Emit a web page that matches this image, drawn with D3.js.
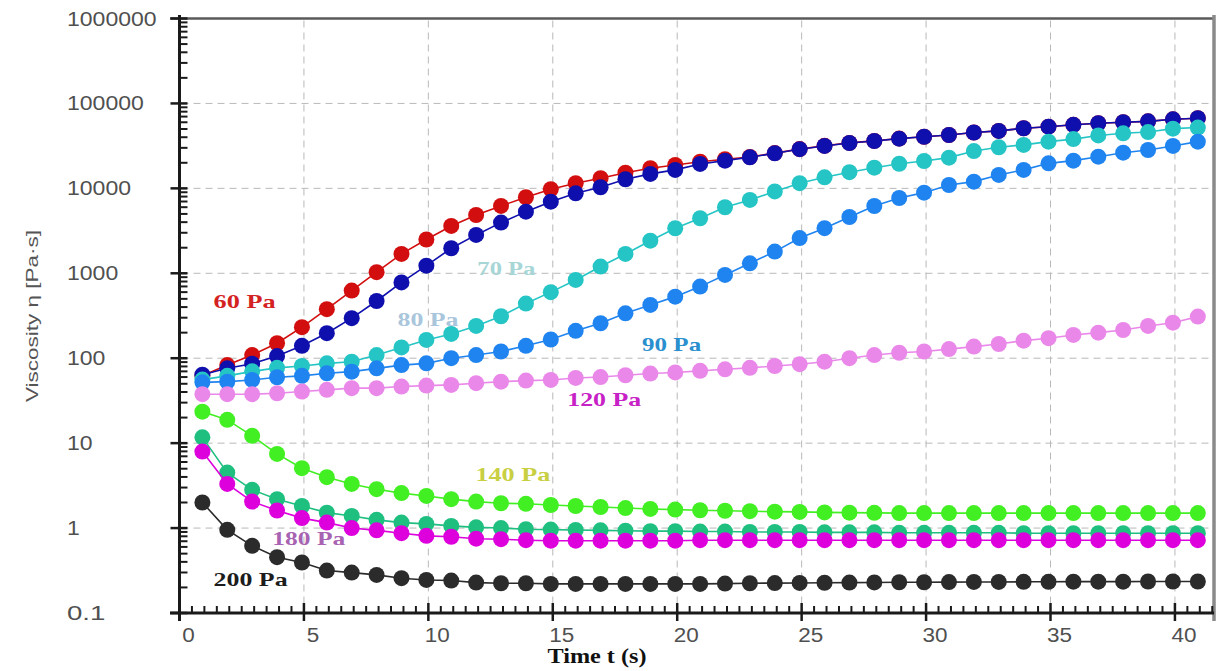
<!DOCTYPE html>
<html>
<head>
<meta charset="utf-8">
<script src="https://cdn.jsdelivr.net/npm/d3@7"></script>
<style>
  body { margin: 0; background: #fff; }
  svg { display: block; }
</style>
</head>
<body>
<svg id="chart" width="1230" height="671"></svg>
<script>
// Sampling times (s)
const times = [0.92, 1.92, 2.92, 3.92, 4.92, 5.92, 6.92, 7.92, 8.92, 9.92,
  10.92, 11.92, 12.92, 13.92, 14.92, 15.92, 16.92, 17.92, 18.92, 19.92,
  20.92, 21.92, 22.92, 23.92, 24.92, 25.92, 26.92, 27.92, 28.92, 29.92,
  30.92, 31.92, 32.92, 33.92, 34.92, 35.92, 36.92, 37.92, 38.92, 39.92, 40.92];

// Viscosity (Pa·s) for each applied stress
const eta60 = [62, 83, 109, 150, 232, 378, 625, 1030, 1690, 2500,
  3610, 4860, 6210, 7860, 9760, 11480, 13150, 15300, 17250, 18850,
  20600, 22000, 23400, 26000, 29000, 31700, 34300, 36200, 38600, 40500,
  42500, 45500, 47500, 51000, 53200, 56000, 58400, 60000, 61500, 65000, 67000];
const eta70 = [64, 76, 86, 106, 140, 197, 296, 472, 780, 1230,
  1970, 2830, 3950, 5320, 6970, 8750, 10300, 12800, 14800, 16500,
  19400, 21200, 23200, 25900, 28900, 31600, 34200, 36100, 38500, 40500,
  42500, 45500, 47500, 51000, 53200, 56000, 58400, 60000, 61500, 65000, 67000];
const eta80 = [56, 62, 70, 77, 81, 87, 91, 109, 134, 164,
  193, 240, 312, 440, 600, 835, 1200, 1690, 2420, 3390,
  4450, 5990, 7300, 9200, 11500, 13500, 15500, 17500, 19500, 21000,
  23000, 27500, 30500, 32500, 35500, 38000, 42000, 44500, 46000, 50500, 52000];
const eta90 = [52, 53, 55.5, 59.7, 62, 66.5, 69.5, 76, 83, 87,
  100, 109, 120, 140, 166, 210, 258, 338, 424, 531,
  697, 957, 1310, 1800, 2600, 3400, 4600, 6200, 7700, 8900,
  10960, 12000, 14400, 16500, 19700, 21200, 23600, 26300, 28300, 31600, 35500];
const eta120 = [37.7, 37.7, 37.7, 38.7, 40.5, 42.4, 44.4, 44.4, 46.4, 47.6,
  48.5, 50.8, 53, 54.5, 55.5, 58.6, 60, 63, 66, 68,
  71, 74, 77, 81, 85, 91, 100, 109, 116, 120,
  128, 137, 147, 161, 172, 188, 200, 215, 240, 262, 309];
const eta140 = [23.5, 18.8, 12.2, 7.46, 5.07, 3.97, 3.31, 2.87, 2.58, 2.39,
  2.19, 2.05, 1.96, 1.93, 1.87, 1.82, 1.77, 1.72, 1.68, 1.65,
  1.62, 1.6, 1.58, 1.56, 1.55, 1.53, 1.52, 1.51, 1.5, 1.5,
  1.5, 1.5, 1.5, 1.5, 1.5, 1.5, 1.5, 1.5, 1.5, 1.5, 1.5];
const etaUnlabeled = [11.7, 4.5, 2.82, 2.19, 1.82, 1.52, 1.39, 1.25, 1.16, 1.12,
  1.06, 1.02, 1.0, 0.97, 0.96, 0.95, 0.94, 0.93, 0.92, 0.92,
  0.91, 0.91, 0.9, 0.9, 0.9, 0.89, 0.89, 0.89, 0.88, 0.88,
  0.88, 0.88, 0.88, 0.87, 0.87, 0.87, 0.87, 0.87, 0.87, 0.87, 0.87];
const eta180 = [7.96, 3.31, 2.05, 1.61, 1.31, 1.16, 1.0, 0.94, 0.87, 0.81,
  0.79, 0.75, 0.74, 0.72, 0.71, 0.71, 0.71, 0.71, 0.71, 0.71,
  0.72, 0.72, 0.72, 0.72, 0.72, 0.72, 0.72, 0.72, 0.72, 0.72,
  0.72, 0.72, 0.72, 0.72, 0.72, 0.72, 0.72, 0.72, 0.72, 0.72, 0.72];
const eta200 = [2.0, 0.953, 0.618, 0.454, 0.393, 0.316, 0.299, 0.281, 0.257, 0.245,
  0.241, 0.228, 0.224, 0.224, 0.22, 0.22, 0.22, 0.22, 0.22, 0.22,
  0.22, 0.222, 0.224, 0.225, 0.226, 0.227, 0.228, 0.229, 0.23, 0.23,
  0.231, 0.232, 0.232, 0.233, 0.233, 0.234, 0.234, 0.234, 0.235, 0.235, 0.235];

// Axis ticks
const yTickValues = [0.1, 1, 10, 100, 1000, 10000, 100000, 1000000];
const yTickLabels = ["0.1", "1", "10", "100", "1000", "10000", "100000", "1000000"];
const xTickValues = [0, 5, 10, 15, 20, 25, 30, 35, 40];
const xTickLabels = ["0", "5", "10", "15", "20", "25", "30", "35", "40"];

// Curve annotations: text and anchor in data coordinates (t, eta)
const annoText = ["60 Pa", "70 Pa", "80 Pa", "90 Pa", "120 Pa", "140 Pa", "180 Pa", "200 Pa"];
const annoT = [1.37, 11.97, 8.76, 18.59, 15.58, 11.89, 3.73, 1.37];
const annoEta = [391, 957, 240, 122, 27.4, 3.6, 0.634, 0.209];

// ---- styling / layout ----
const series = [
  { values: eta60, fill: "#d20e0e", stroke: "#d20e0e" },
  { values: eta70, fill: "#0f0fae", stroke: "#0f0fae" },
  { values: eta80, fill: "#25c5c5", stroke: "#25c5c5" },
  { values: eta90, fill: "#1f84f0", stroke: "#1f84f0" },
  { values: eta120, fill: "#ea88ea", stroke: "#ea88ea" },
  { values: eta140, fill: "#42ef22", stroke: "#42ef22" },
  { values: etaUnlabeled, fill: "#1fbf80", stroke: "#1fbf80" },
  { values: eta180, fill: "#dd00dd", stroke: "#dd00dd" },
  { values: eta200, fill: "#2b2b2b", stroke: "#2b2b2b" }
];
const annoColor = ["#d42222", "#a6d6d6", "#a9c6dc", "#2a8fce", "#c622c6", "#c9cf42", "#a862b2", "#1c1c1c"];
const annoWidth = [62, 58, 61, 59, 74, 75, 73, 74];

const plot = { left: 179.5, right: 1214, top: 18.5, bottom: 613 };
const svg = d3.select("#chart");

const x = d3.scaleLinear().domain([0, 41.57]).range([plot.left, plot.right]);
const y = d3.scaleLog().domain([0.1, 1000000]).range([plot.bottom, plot.top]);

// Dashed grid
const grid = svg.append("g").attr("stroke", "#b9b9b9").attr("stroke-width", 1)
  .attr("stroke-dasharray", "7,5").attr("fill", "none");
grid.selectAll("line.h").data(yTickValues.filter(v => v > 0.1 && v < 1000000))
  .join("line").attr("class", "h")
  .attr("x1", plot.left + 2).attr("x2", plot.right - 2)
  .attr("y1", d => y(d)).attr("y2", d => y(d));
grid.selectAll("line.v").data(xTickValues.filter(v => v > 0))
  .join("line").attr("class", "v")
  .attr("x1", d => x(d)).attr("x2", d => x(d))
  .attr("y1", plot.top + 2).attr("y2", plot.bottom - 2);

// Frame: top and right borders
svg.append("line").attr("x1", 170).attr("x2", plot.right).attr("y1", plot.top).attr("y2", plot.top)
  .attr("stroke", "#5a5a5a").attr("stroke-width", 2.5);
svg.append("line").attr("x1", plot.right).attr("x2", plot.right).attr("y1", 15).attr("y2", 621)
  .attr("stroke", "#8a8a8a").attr("stroke-width", 3.5);

// Left axis
const yAxis = svg.append("g").attr("stroke", "#1a1a1a");
yAxis.append("line").attr("x1", plot.left).attr("x2", plot.left).attr("y1", 15).attr("y2", 621)
  .attr("stroke-width", 3);
const yMinor = [];
yTickValues.slice(0, -1).forEach(d => { for (let k = 2; k <= 9; k++) yMinor.push(d * k); });
yAxis.selectAll("line.minor").data(yMinor).join("line").attr("class", "minor")
  .attr("x1", plot.left).attr("x2", plot.left + 8)
  .attr("y1", d => y(d)).attr("y2", d => y(d)).attr("stroke-width", 2);
yAxis.selectAll("line.major").data(yTickValues).join("line").attr("class", "major")
  .attr("x1", plot.left - 9).attr("x2", plot.left + 8)
  .attr("y1", d => y(d)).attr("y2", d => y(d)).attr("stroke-width", 2.5);

svg.append("g").selectAll("text").data(yTickValues).join("text")
  .attr("x", 67).attr("y", d => y(d))
  .attr("dominant-baseline", "central")
  .attr("font-family", "'Liberation Sans', Arial, sans-serif")
  .attr("font-size", 20).attr("fill", "#505050")
  .attr("textLength", (d, i) => yTickLabels[i].length * 12.8)
  .attr("lengthAdjust", "spacingAndGlyphs")
  .text((d, i) => yTickLabels[i]);

// Bottom axis
const xAxis = svg.append("g").attr("stroke", "#1a1a1a");
xAxis.append("line").attr("x1", 170).attr("x2", plot.right).attr("y1", plot.bottom).attr("y2", plot.bottom)
  .attr("stroke-width", 3);
const xMinor = d3.range(1, 84).map(k => k / 2).filter(v => v % 5 !== 0);
xAxis.selectAll("line.minor").data(xMinor).join("line").attr("class", "minor")
  .attr("x1", d => x(d)).attr("x2", d => x(d))
  .attr("y1", plot.bottom - 7).attr("y2", plot.bottom).attr("stroke-width", 2);
xAxis.selectAll("line.major").data(xTickValues).join("line").attr("class", "major")
  .attr("x1", d => x(d)).attr("x2", d => x(d))
  .attr("y1", plot.bottom - 10).attr("y2", plot.bottom + 8).attr("stroke-width", 2.5);

svg.append("g").selectAll("text").data(xTickValues).join("text")
  .attr("x", d => x(d) + 9).attr("y", 635)
  .attr("text-anchor", "middle").attr("dominant-baseline", "central")
  .attr("font-family", "'Liberation Sans', Arial, sans-serif")
  .attr("font-size", 20).attr("fill", "#505050")
  .attr("textLength", (d, i) => xTickLabels[i].length * 12.5)
  .attr("lengthAdjust", "spacingAndGlyphs")
  .text((d, i) => xTickLabels[i]);

// Axis titles
svg.append("text")
  .attr("transform", "translate(38,316) rotate(-90)")
  .attr("text-anchor", "middle")
  .attr("font-family", "'Liberation Sans', Arial, sans-serif")
  .attr("font-size", 17).attr("fill", "#555")
  .attr("textLength", 172).attr("lengthAdjust", "spacingAndGlyphs")
  .text("Viscosity η  [Pa·s]");
svg.append("text")
  .attr("x", 597).attr("y", 663)
  .attr("text-anchor", "middle")
  .attr("font-family", "'Liberation Serif', 'Times New Roman', serif")
  .attr("font-weight", "bold").attr("font-size", 20).attr("fill", "#111")
  .attr("textLength", 99).attr("lengthAdjust", "spacingAndGlyphs")
  .text("Time t (s)");

// Series: connecting line + filled markers
const line = d3.line().x((d, i) => x(times[i])).y(d => y(d));
series.forEach(s => {
  const g = svg.append("g");
  g.append("path").attr("d", line(s.values)).attr("fill", "none")
    .attr("stroke", s.stroke).attr("stroke-width", 1.6);
  g.selectAll("circle").data(s.values).join("circle")
    .attr("cx", (d, i) => x(times[i])).attr("cy", d => y(d)).attr("r", 8)
    .attr("fill", s.fill);
});

// Stress annotations
svg.append("g").selectAll("text").data(annoText).join("text")
  .attr("x", (d, i) => x(annoT[i])).attr("y", (d, i) => y(annoEta[i]))
  .attr("font-family", "'Liberation Serif', 'Times New Roman', serif")
  .attr("font-weight", "bold").attr("font-size", 19)
  .attr("fill", (d, i) => annoColor[i])
  .attr("textLength", (d, i) => annoWidth[i]).attr("lengthAdjust", "spacingAndGlyphs")
  .text(d => d);
</script>
</body>
</html>
